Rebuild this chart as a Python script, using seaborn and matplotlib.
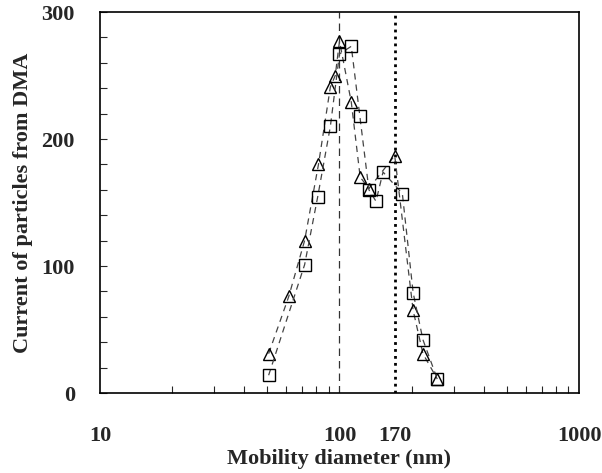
import numpy as np
import matplotlib
matplotlib.use("Agg")
import matplotlib.pyplot as plt
import seaborn as sns
from matplotlib.ticker import FixedLocator, LogLocator, NullFormatter, MultipleLocator

# triangles
tri_d = [50.6, 61.4, 71.5, 81.7, 91.6, 96.0, 100.0, 112.0, 122.0, 132.7, 170.0, 203.0, 223.0, 256.0]
tri_i = [31, 76, 120, 180, 241, 250, 277, 229, 170, 161, 187, 65, 31, 11]
# squares
sq_d = [50.6, 71.5, 81.0, 91.6, 100.0, 112.0, 121.6, 132.7, 142.0, 152.0, 183.0, 203.0, 223.0, 256.0]
sq_i = [14, 101, 154, 210, 267, 273, 218, 160, 151, 174, 157, 79, 42, 11]

xticks = [10, 100, 170, 1000]
yticks = [0, 100, 200, 300]

sns.set_style("white")
plt.rcParams['font.family'] = ['Liberation Serif', 'DejaVu Serif']
plt.rcParams['font.weight'] = 'bold'

fig = plt.figure(figsize=(6.02, 4.73), dpi=100)
ax = fig.add_axes([0.1661, 0.1691, 0.7957, 0.8055])

sns.lineplot(x=tri_d, y=tri_i, ax=ax, sort=False, color='#444444', linestyle=(0, (5, 4)),
             linewidth=0.9, marker='^', markersize=9, markerfacecolor='none',
             markeredgecolor='black', markeredgewidth=1.0)
sns.lineplot(x=sq_d, y=sq_i, ax=ax, sort=False, color='#444444', linestyle=(0, (5, 4)),
             linewidth=0.9, marker='s', markersize=8.5, markerfacecolor='none',
             markeredgecolor='black', markeredgewidth=1.0)

ax.axvline(100, color='#333333', linestyle=(0, (6, 4)), linewidth=0.9, zorder=0)
ax.axvline(170, color='black', linestyle=(0, (1, 1.5)), linewidth=2.0, zorder=0)

ax.set_xscale('log')
ax.set_xlim(10, 1000)
ax.set_ylim(0, 300)
ax.xaxis.set_major_locator(FixedLocator(xticks))
ax.set_xticklabels([str(t) for t in xticks])
ax.xaxis.set_minor_locator(LogLocator(base=10, subs=np.arange(2, 10)))
ax.xaxis.set_minor_formatter(NullFormatter())
ax.yaxis.set_major_locator(FixedLocator(yticks))
ax.yaxis.set_minor_locator(MultipleLocator(20))

ax.tick_params(axis='x', which='both', direction='in', length=5, width=0.8, pad=24,
               labelsize=16, bottom=True, top=False)
ax.tick_params(axis='x', which='major', length=0)
ax.tick_params(axis='y', which='both', direction='in', length=5, width=0.8, pad=18,
               labelsize=16, left=True, right=False)
for lbl in ax.get_xticklabels() + ax.get_yticklabels():
    lbl.set_fontweight('bold')

for s in ax.spines.values():
    s.set_color('black')
    s.set_linewidth(1.2)

ax.set_xlabel("Mobility diameter (nm)", fontsize=16, fontweight='bold', labelpad=2)
ax.set_ylabel("Current of particles from DMA", fontsize=16, fontweight='bold', labelpad=6)

fig.savefig("out.png", dpi=100)
